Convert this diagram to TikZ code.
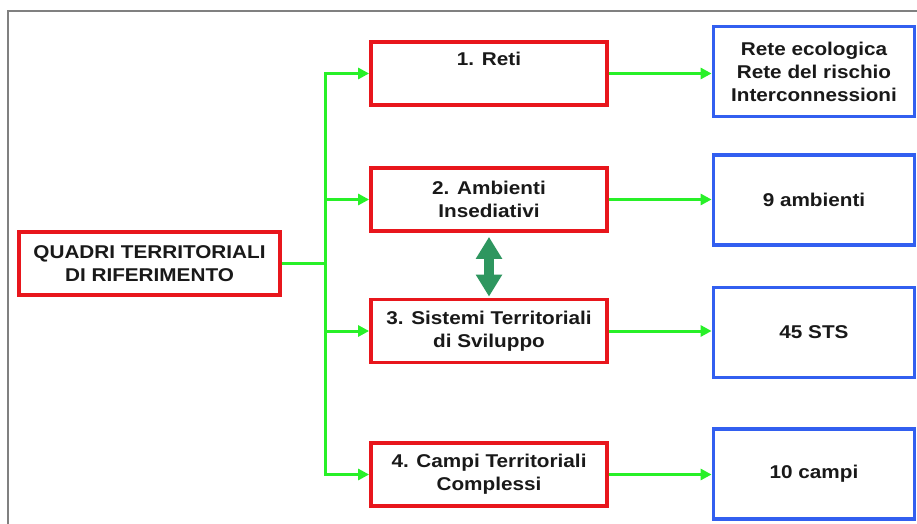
\documentclass[tikz,border=0pt]{standalone}
\usepackage{fontspec}
\setmainfont{Liberation Sans}[FakeStretch=1.12]
\usetikzlibrary{arrows.meta}
\definecolor{boxred}{RGB}{232,22,28}
\definecolor{boxblue}{RGB}{50,95,240}
\definecolor{linkgreen}{RGB}{40,240,40}
\definecolor{dgreen}{RGB}{46,150,95}
\definecolor{framegray}{RGB}{128,128,128}
\begin{document}
\begin{tikzpicture}[x=1pt,y=-1pt,
  txt/.style={font=\fontsize{18.5}{23}\selectfont\bfseries, align=center, text=black!90},
  redbox/.style={txt, draw=boxred, line width=3.8pt, minimum width=236pt, minimum height=63pt, inner sep=0pt},
  bluebox/.style={txt, draw=boxblue, line width=3.8pt, minimum width=201pt, minimum height=90pt, inner sep=0pt},
  link/.style={draw=linkgreen, line width=3pt},
  linkarrow/.style={link, -{Triangle[length=11pt,width=11pt]}},
  twoway/.style={draw=dgreen, line width=10pt, {Triangle[length=22pt,width=25pt]}-{Triangle[length=22pt,width=25pt]}}
]
\useasboundingbox (0,0) rectangle (917,524);
\fill[white] (0,0) rectangle (917,524);
\draw[framegray, line width=2pt] (8,530) -- (8,11) -- (925,11);

\node[redbox, minimum width=261pt] (q) at (149.5,263.5) {QUADRI TERRITORIALI\\DI RIFERIMENTO};

\node[redbox, label={[txt, anchor=north, yshift=-8pt]north:1. Reti}] (r1) at (489,73.5) {};
\node[redbox] (r2) at (489,199.5) {2. Ambienti\\Insediativi};
\node[redbox] (r3) at (489,331) {3. Sistemi Territoriali\\di Sviluppo};
\node[redbox] (r4) at (489,474.5) {4. Campi Territoriali\\Complessi};

\node[bluebox] (b1) at (814,71.5) {Rete ecologica\\Rete del rischio\\Interconnessioni};
\node[bluebox] (b2) at (814,200) {9 ambienti};
\node[bluebox] (b3) at (814,332.5) {45 STS};
\node[bluebox] (b4) at (814,474) {10 campi};

\coordinate (j) at (325,263.5);
\draw[link] (q.east) -- (j);
\draw[linkarrow] (j) |- (r1.west);
\draw[linkarrow] (j) |- (r2.west);
\draw[linkarrow] (j) |- (r3.west);
\draw[linkarrow] (j) |- (r4.west);

\draw[linkarrow] (r1.east) -- (r1.east -| b1.west);
\draw[linkarrow] (r2.east) -- (r2.east -| b2.west);
\draw[linkarrow] (r3.east) -- (r3.east -| b3.west);
\draw[linkarrow] (r4.east) -- (r4.east -| b4.west);

\draw[twoway] ([yshift=-4pt]r2.south) -- ([yshift=1pt]r3.north);
\end{tikzpicture}
\end{document}
